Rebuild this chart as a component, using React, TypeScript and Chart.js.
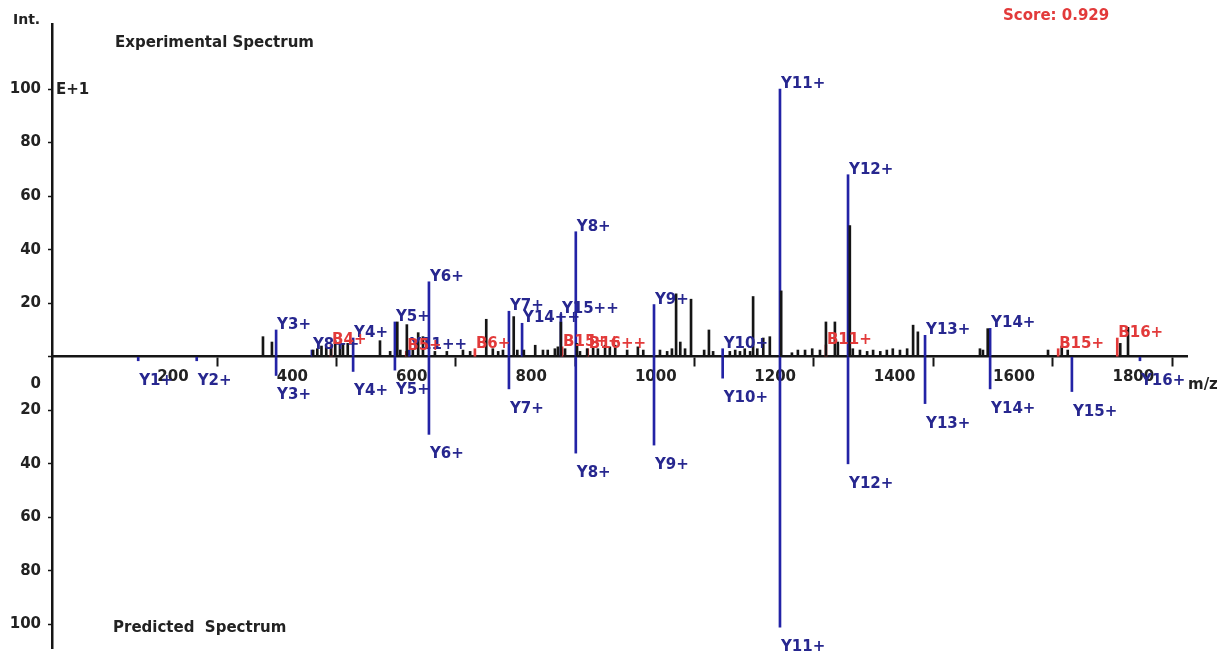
import { useEffect, useRef } from 'react';
import { Chart, registerables } from 'chart.js';

Chart.register(...registerables);

const FONT = '"DejaVu Sans", sans-serif';
const BLACK = '#151515';
const BLUE = '#2323a6';
const BLUE_TEXT = '#27278f';
const RED = '#e23a3a';

// Experimental spectrum (m/z, relative intensity)
const expMz = [377, 392, 461, 468, 475, 483, 491, 498, 506, 511, 519, 573, 590, 602, 607, 618, 628, 637, 645, 665, 685, 712, 724, 751, 762, 771, 779, 797, 803, 814, 833, 846, 854, 866, 871, 876, 883, 903, 908, 920, 930, 938, 950, 958, 967, 987, 1005, 1014, 1042, 1054, 1062, 1069, 1076, 1084, 1094, 1116, 1124, 1131, 1159, 1168, 1176, 1184, 1193, 1198, 1205, 1215, 1226, 1245, 1263, 1273, 1285, 1297, 1310, 1320, 1335, 1340, 1360, 1365, 1377, 1389, 1399, 1411, 1422, 1432, 1444, 1456, 1466, 1474, 1578, 1583, 1591, 1692, 1715, 1725, 1813, 1826];
const expInt = [7.5, 5.5, 2.5, 3, 4, 3.5, 3.5, 6, 5, 5, 5, 6, 2, 13, 2.5, 12, 3, 9, 7.5, 2, 2, 2.5, 2, 14, 3, 2, 2.5, 15, 2.5, 2.5, 4.3, 2.5, 2.5, 3, 3.7, 13, 3, 5, 2, 3, 3.7, 3, 4.3, 3.7, 4.3, 2.5, 3.7, 2.5, 2.5, 2, 3, 23.5, 5.5, 3, 21.5, 2.5, 10, 2, 2, 2.5, 2, 3, 2, 22.5, 3, 7, 7.5, 24.6, 1.5, 2.5, 2.5, 3, 2.5, 13, 13, 5.5, 49, 3, 2.5, 2, 2.5, 2, 2.5, 3, 2.5, 3, 11.8, 9.3, 3, 2.5, 10.5, 2.5, 4, 2.5, 5, 11];

// Matched Y ions (upper, blue)
const matchedIons = ['Y3+', 'Y8++', 'Y4+', 'Y5+', 'Y11++', 'Y6+', 'Y7+', 'Y14++', 'Y15++', 'Y8+', 'Y9+', 'Y10+', 'Y11+', 'Y12+', 'Y13+', 'Y14+'];
const matchedMz = [399, 459, 528, 598, 622, 655, 789, 811, 876, 901, 1032, 1147, 1243, 1357, 1486, 1595];
const matchedInt = [10, 2.5, 7, 13, 2.5, 28, 17, 12.5, 16, 46.7, 19.5, 3, 100, 68, 8, 10.6];

// Matched B ions (upper, red)
const bIons = ['B4+', 'B5+', 'B6+', 'B15++', 'B16++', 'B11+', 'B15+', 'B16+'];
const bMz = [491, 617, 732, 878, 921, 1320, 1709, 1808];
const bInt = [4.4, 2, 3, 3.7, 3, 4.4, 3, 7];

// Predicted spectrum (lower, blue)
const predIons = ['Y1+', 'Y2+', 'Y3+', 'Y4+', 'Y5+', 'Y6+', 'Y7+', 'Y8+', 'Y9+', 'Y10+', 'Y11+', 'Y12+', 'Y13+', 'Y14+', 'Y15+', 'Y16+'];
const predMz = [168, 266, 399, 528, 598, 655, 789, 901, 1032, 1147, 1243, 1357, 1486, 1595, 1732, 1846];
const predInt = [-1.5, -1.5, -7, -5.5, -5, -29, -12, -36, -33, -8, -101, -40, -17.5, -12, -13, -1.5];

// Axes
const X_MIN = 23.6;
const X_MAX = 1924.8;
const Y_MIN = -108.8;
const Y_MAX = 124.3;
const xLabelValues = [200, 400, 600, 800, 1000, 1200, 1400, 1600, 1800];
const xMarkValues = [300, 500, 700, 900, 1100, 1300, 1500, 1700, 1900];
const yTickValues = [-100, -80, -60, -40, -20, 0, 20, 40, 60, 80, 100];

const toPts = (xs: number[], ys: number[]) => xs.map((x, i) => ({ x, y: ys[i] }));

export default function App() {
  const ref = useRef<HTMLCanvasElement>(null);

  useEffect(() => {
    const canvas = ref.current;
    if (!canvas) return;

    const labelPlugin = {
      id: 'ionLabels',
      afterDatasetsDraw(chart: any) {
        const { ctx, scales } = chart;
        const xs = scales.x;
        const ys = scales.y;
        ctx.save();
        ctx.font = `bold 15px ${FONT}`;
        ctx.textAlign = 'left';
        ctx.textBaseline = 'alphabetic';
        const draw = (names: string[], mz: number[], inten: number[], color: string, up: boolean) => {
          ctx.fillStyle = color;
          names.forEach((n, i) => {
            const px = xs.getPixelForValue(mz[i]);
            const py = ys.getPixelForValue(inten[i]);
            ctx.fillText(n, px + 1, up ? py - 1 : py + 24);
          });
        };
        draw(matchedIons, matchedMz, matchedInt, BLUE_TEXT, true);
        draw(predIons, predMz, predInt, BLUE_TEXT, false);
        draw(bIons, bMz, bInt, RED, true);

        // Static annotations
        ctx.textBaseline = 'middle';
        ctx.fillStyle = '#222';
        ctx.font = `bold 14px ${FONT}`;
        ctx.fillText('Int.', 13, 20);
        ctx.font = `bold 15px ${FONT}`;
        ctx.fillText('Experimental Spectrum', 115, 43);
        ctx.fillText('Predicted  Spectrum', 113, 628);
        ctx.fillText('E+1', 56, 90);
        ctx.fillText('m/z', 1188, 385);
        ctx.fillStyle = RED;
        ctx.fillText('Score: 0.929', 1003, 16);
        ctx.restore();
      },
    };

    const chart = new Chart(canvas, {
      type: 'bar',
      data: {
        datasets: [
          { label: 'Experimental', data: toPts(expMz, expInt), backgroundColor: BLACK, barThickness: 2, grouped: false, borderWidth: 0 } as any,
          { label: 'B ions', data: toPts(bMz, bInt), backgroundColor: RED, barThickness: 2, grouped: false, borderWidth: 0 } as any,
          { label: 'Matched', data: toPts(matchedMz, matchedInt), backgroundColor: BLUE, barThickness: 2, grouped: false, borderWidth: 0 } as any,
          { label: 'Predicted', data: toPts(predMz, predInt), backgroundColor: BLUE, barThickness: 2, grouped: false, borderWidth: 0 } as any,
        ],
      },
      options: {
        responsive: false,
        animation: false,
        layout: { padding: { left: 0, top: 24, right: 38, bottom: 6 } },
        plugins: {
          legend: { display: false },
          tooltip: { enabled: false },
          title: { display: false },
        },
        scales: {
          x: {
            type: 'linear',
            position: { y: 0 } as any,
            min: X_MIN,
            max: X_MAX,
            offset: false,
            afterFit: (s: any) => { s.height = 0; },
            afterBuildTicks: (s: any) => {
              s.ticks = [...xLabelValues, ...xMarkValues].sort((a, b) => a - b).map((v) => ({ value: v }));
            },
            grid: {
              display: true,
              offset: false,
              drawOnChartArea: false,
              drawTicks: true,
              tickLength: 9,
              tickWidth: 2,
              tickColor: (c: any) => (c.tick && xMarkValues.includes(c.tick.value) ? BLACK : 'rgba(0,0,0,0)'),
            },
            border: { display: true, color: BLACK, width: 2.5 },
            ticks: {
              align: 'start',
              padding: 2,
              color: '#222',
              autoSkip: false,
              maxRotation: 0,
              font: { family: FONT, size: 15, weight: 'bold' },
              callback: (v: any) => (xLabelValues.includes(v) ? String(v) : ''),
            },
          } as any,
          y: {
            type: 'linear',
            min: Y_MIN,
            max: Y_MAX,
            afterFit: (s: any) => { s.width = 52; },
            afterBuildTicks: (s: any) => {
              s.ticks = yTickValues.map((v) => ({ value: v }));
            },
            grid: {
              display: true,
              drawOnChartArea: false,
              drawTicks: true,
              tickLength: 4,
              tickWidth: 1.5,
              tickColor: BLACK,
            },
            border: { display: true, color: BLACK, width: 2.5 },
            ticks: {
              padding: 7,
              color: '#222',
              autoSkip: false,
              font: { family: FONT, size: 15, weight: 'bold' },
              callback: (v: any) => (v === 0 ? ['', '', '', '0'] : String(Math.abs(v))),
            },
          } as any,
        },
      },
      plugins: [labelPlugin],
    });

    return () => chart.destroy();
  }, []);

  return (
    <div style={{ position: 'absolute', left: 0, top: 0, width: 1225, height: 664, background: '#fff' }}>
      <canvas ref={ref} width={1225} height={664} style={{ display: 'block' }} />
    </div>
  );
}
